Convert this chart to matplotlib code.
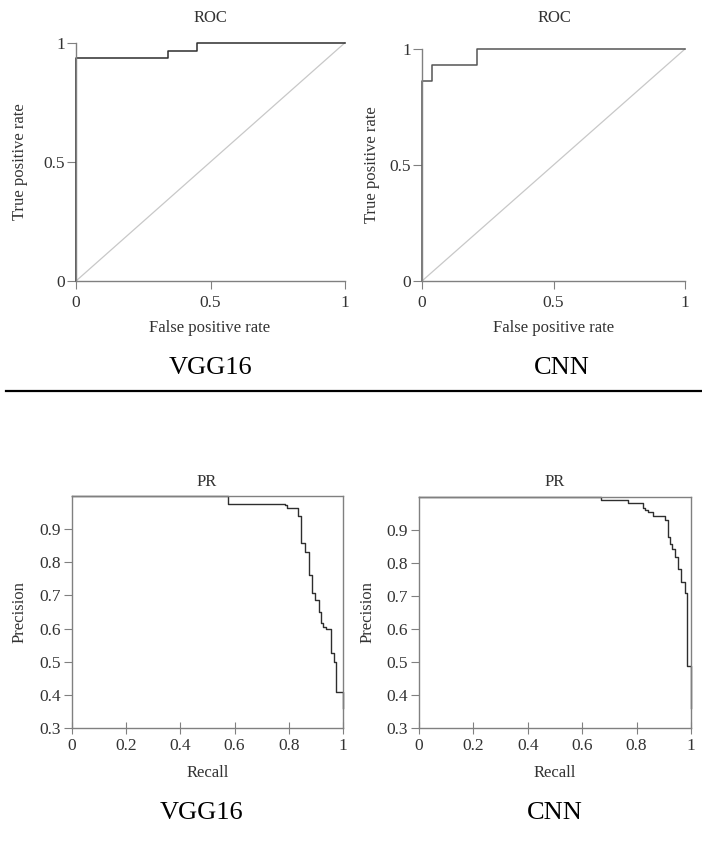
import matplotlib
matplotlib.use("Agg")
import matplotlib.pyplot as plt
from matplotlib.lines import Line2D

plt.rcParams['font.family'] = ['Liberation Serif', 'DejaVu Serif']

# ---------------- data ----------------
roc_ticks = [0, 0.5, 1]
roc_ticklabels = ["0", "0.5", "1"]

vgg_fpr = [0, 0, 0.342, 0.45, 1.0]
vgg_tpr = [0, 0.935, 0.967, 1.0, 1.0]

cnn_fpr = [0, 0, 0.037, 0.208, 1.0]
cnn_tpr = [0, 0.862, 0.931, 1.0, 1.0]

diag = [0, 1]

pr_xticks = [0, 0.2, 0.4, 0.6, 0.8, 1]
pr_xticklabels = ["0", "0.2", "0.4", "0.6", "0.8", "1"]
pr_yticks = [0.3, 0.4, 0.5, 0.6, 0.7, 0.8, 0.9]
pr_yticklabels = ["0.3", "0.4", "0.5", "0.6", "0.7", "0.8", "0.9"]

vgg_recall = [0, 0.577, 0.786, 0.795, 0.805, 0.835, 0.844, 0.858, 0.873, 0.887,
              0.895, 0.910, 0.918, 0.926, 0.939, 0.957, 0.967, 0.976, 1.0]
vgg_precision = [1.0, 0.976, 0.972, 0.965, 0.963, 0.94, 0.857, 0.832, 0.762, 0.706,
                 0.686, 0.651, 0.618, 0.606, 0.599, 0.527, 0.498, 0.41, 0.36]

cnn_recall = [0, 0.668, 0.770, 0.825, 0.831, 0.843, 0.861, 0.904, 0.916, 0.922,
              0.930, 0.940, 0.952, 0.965, 0.977, 0.987, 1.0]
cnn_precision = [1.0, 0.99, 0.983, 0.968, 0.96, 0.955, 0.942, 0.93, 0.879, 0.859,
                 0.842, 0.819, 0.782, 0.741, 0.708, 0.487, 0.36]

models = ["VGG16", "CNN"]

# ---------------- layout ----------------
W, H = 702, 846
fig = plt.figure(figsize=(W / 100, H / 100), dpi=100)
fig.patch.set_facecolor("white")

def frac_box(left, top, right, bottom):
    return [left / W, 1 - bottom / H, (right - left) / W, (bottom - top) / H]

TXT = "#333333"
SPINE = "#808080"
TICKSIZE = 12.5
LABSIZE = 12

def ftext(x, y, s, **kw):
    fig.text(x / W, 1 - y / H, s, ha="center", va="center", **kw)

# ROC axes
roc_boxes = [frac_box(76, 42.7, 345, 281), frac_box(422, 49, 685, 281)]
roc_data = [(vgg_fpr, vgg_tpr, "#2e2e2e"), (cnn_fpr, cnn_tpr, "#555555")]
for box, (fx, ty, col) in zip(roc_boxes, roc_data):
    ax = fig.add_axes(box)
    ax.plot(diag, diag, color="#c8c8c8", lw=0.9, clip_on=False)
    ax.plot(fx, ty, drawstyle="steps-post", color=col, lw=1.1, clip_on=False)
    ax.set_xlim(0, 1)
    ax.set_ylim(0, 1)
    for s in ["top", "right"]:
        ax.spines[s].set_visible(False)
    for s in ["left", "bottom"]:
        ax.spines[s].set_color(SPINE)
        ax.spines[s].set_linewidth(1.0)
    ax.set_xticks(roc_ticks)
    ax.set_xticklabels(roc_ticklabels)
    ax.set_yticks(roc_ticks)
    ax.set_yticklabels(roc_ticklabels)
    ax.tick_params(axis="x", direction="out", length=6, width=0.8, color=SPINE,
                   pad=4, labelsize=TICKSIZE, labelcolor=TXT)
    ax.tick_params(axis="y", direction="out", length=6.5, width=0.8, color=SPINE,
                   pad=1.5, labelsize=TICKSIZE, labelcolor=TXT)
    ax.set_facecolor("none")

# PR axes
pr_boxes = [frac_box(72, 496, 343, 728), frac_box(419, 497, 691, 728)]
pr_data = [(vgg_recall, vgg_precision), (cnn_recall, cnn_precision)]
for box, (rc, pc) in zip(pr_boxes, pr_data):
    ax = fig.add_axes(box)
    ax.plot(rc, pc, drawstyle="steps-post", color="#2e2e2e", lw=1.0, clip_on=False)
    ax.set_xlim(0, 1)
    ax.set_ylim(0.3, 1.0)
    for s in ax.spines.values():
        s.set_color(SPINE)
        s.set_linewidth(1.0)
    ax.set_xticks(pr_xticks)
    ax.set_xticklabels(pr_xticklabels)
    ax.set_yticks(pr_yticks)
    ax.set_yticklabels(pr_yticklabels)
    ax.tick_params(axis="x", direction="inout", length=8, width=0.8, color=SPINE,
                   pad=3, labelsize=TICKSIZE, labelcolor=TXT)
    ax.tick_params(axis="y", direction="out", length=5.5, width=0.8, color=SPINE,
                   pad=2.5, labelsize=TICKSIZE, labelcolor=TXT)
    ax.set_facecolor("none")

# titles and axis labels
ftext(210, 18, "ROC", fontsize=12, color=TXT)
ftext(554, 18, "ROC", fontsize=12, color=TXT)
ftext(210, 328, "False positive rate", fontsize=LABSIZE, color=TXT)
ftext(554, 328, "False positive rate", fontsize=LABSIZE, color=TXT)
ftext(20, 162, "True positive rate", fontsize=LABSIZE, color=TXT, rotation=90)
ftext(372, 165, "True positive rate", fontsize=LABSIZE, color=TXT, rotation=90)

ftext(207, 482, "PR", fontsize=12, color=TXT)
ftext(555, 482, "PR", fontsize=12, color=TXT)
ftext(208, 773, "Recall", fontsize=LABSIZE, color=TXT)
ftext(555, 773, "Recall", fontsize=LABSIZE, color=TXT)
ftext(20, 612, "Precision", fontsize=LABSIZE, color=TXT, rotation=90)
ftext(368, 612, "Precision", fontsize=LABSIZE, color=TXT, rotation=90)

# model names
ftext(211, 368, models[0], fontsize=19, color="black")
ftext(562, 368, models[1], fontsize=19, color="black")
ftext(202, 813, models[0], fontsize=19, color="black")
ftext(555, 813, models[1], fontsize=19, color="black")

# separator
fig.add_artist(Line2D([6 / W, 1.0], [1 - 391 / H, 1 - 391 / H],
                      color="black", lw=1.6, transform=fig.transFigure))

fig.savefig("out.png", dpi=100, facecolor="white")
